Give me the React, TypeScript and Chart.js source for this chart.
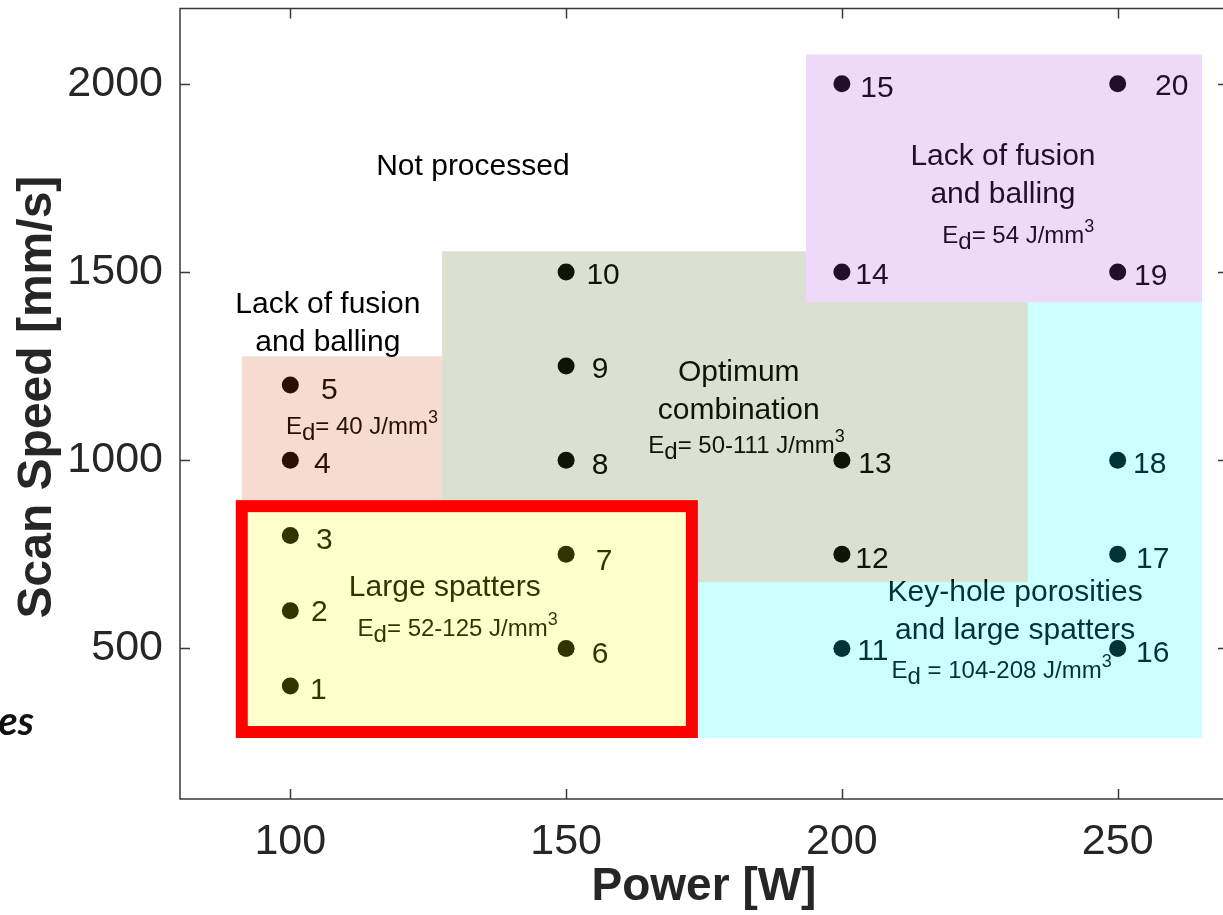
import React, { useEffect, useRef } from 'react';
import { Chart, registerables } from 'chart.js';

Chart.register(...registerables);

// ---- data ----
const POWER = [100, 100, 100, 100, 100, 150, 150, 150, 150, 150, 200, 200, 200, 200, 200, 250, 250, 250, 250, 250];
const SPEED = [400, 600, 800, 1000, 1200, 500, 750, 1000, 1250, 1500, 500, 750, 1000, 1500, 2000, 500, 750, 1000, 1500, 2000];
const POINT_IDS = ['1', '2', '3', '4', '5', '6', '7', '8', '9', '10', '11', '12', '13', '14', '15', '16', '17', '18', '19', '20'];
const X_TICKS = [100, 150, 200, 250];
const Y_TICKS = [500, 1000, 1500, 2000];
const X_RANGE = [80, 270];
const Y_RANGE = [100, 2200];

// process-window regions in data units: [xMin, xMax, yMin, yMax]
const REGION_NAMES = ['keyhole', 'optimum', 'lackLow', 'lackHigh', 'spatters'];
const REGION_BOUNDS = [
  [172.8, 265.3, 262, 1430],
  [127.5, 233.7, 676, 1555],
  [91.2, 127.5, 878, 1276],
  [193.5, 265.3, 1419.5, 2078],
  [91.2, 172.8, 278, 878],
];

// region captions (data-anchored, centred)
const CAPTION_TEXT = ['Not processed', 'Lack of fusion', 'and balling', 'Optimum', 'combination', 'Lack of fusion', 'and balling', 'Large spatters', 'Key-hole porosities', 'and large spatters'];
const CAPTION_X = [133.1, 106.8, 106.8, 181.3, 181.3, 229.2, 229.2, 128.0, 231.4, 231.4];
const CAPTION_Y = [1756.6, 1390.3, 1289.4, 1209.7, 1108.9, 1783.2, 1682.3, 638.9, 625.7, 524.8];

// energy density notes: text after "E_d", anchored left
const ED_TEXT = ['= 40 J/mm', '= 52-125 J/mm', '= 50-111 J/mm', '= 54 J/mm', ' = 104-208 J/mm'];
const ED_X = [99.2, 112.2, 164.9, 218.2, 209.0];
const ED_Y = [1069, 532.8, 1018.6, 1576.1, 421.3];

// ---- layout / style (not data) ----
const LABEL_DX = [28, 29, 34, 32, 39, 34, 38, 34, 34, 37, 31, 30, 33, 30, 35, 35, 35, 32, 33, 54];
const LABEL_DY = [2, 0, 3, 2, 3, 4, 5, 3, 1, 1, 1, 3, 2, 1, 3, 3, 3, 2, 2, 1];
const REGION_COLORS = ['rgb(0,255,255)', 'rgb(75,100,22)', 'rgb(210,75,25)', 'rgb(175,65,235)', 'rgb(255,255,0)'];
const FONT = '"Liberation Sans", Arial, Helvetica, sans-serif';
const AXIS_COLOR = '#3a3a3a';
const TEXT_COLOR = '#262626';

const W = 1240;
const H = 915;

const annotate = {
  id: 'annotate',
  afterDatasetsDraw(chart: any) {
    const { ctx, scales } = chart;
    const x = scales.x;
    const y = scales.y;
    ctx.save();
    ctx.fillStyle = '#000';
    ctx.textBaseline = 'alphabetic';
    ctx.font = `30px ${FONT}`;
    ctx.textAlign = 'center';
    CAPTION_TEXT.forEach((t, i) => {
      ctx.fillText(t, x.getPixelForValue(CAPTION_X[i]), y.getPixelForValue(CAPTION_Y[i]));
    });
    POINT_IDS.forEach((t, i) => {
      const px = x.getPixelForValue(POWER[i]) + LABEL_DX[i];
      const py = y.getPixelForValue(SPEED[i]) + LABEL_DY[i] + 10.7;
      ctx.fillText(t, px, py);
    });
    ctx.textAlign = 'left';
    ED_TEXT.forEach((t, i) => {
      let px = x.getPixelForValue(ED_X[i]);
      const py = y.getPixelForValue(ED_Y[i]);
      ctx.font = `24px ${FONT}`;
      ctx.fillText('E', px, py);
      px += ctx.measureText('E').width;
      ctx.fillText('d', px, py + 6);
      px += ctx.measureText('d').width;
      ctx.fillText(t, px, py);
      px += ctx.measureText(t).width;
      ctx.font = `18px ${FONT}`;
      ctx.fillText('3', px, py - 11);
    });
    ctx.restore();

    // translucent region overlays (drawn opaque off-screen, composited once)
    const off = document.createElement('canvas');
    off.width = chart.canvas.width;
    off.height = chart.canvas.height;
    const o = off.getContext('2d') as CanvasRenderingContext2D;
    const dpr = chart.currentDevicePixelRatio || 1;
    o.scale(dpr, dpr);
    REGION_NAMES.forEach((_, i) => {
      const [x0, x1, y0, y1] = REGION_BOUNDS[i];
      const l = x.getPixelForValue(x0);
      const r = x.getPixelForValue(x1);
      const t = y.getPixelForValue(y1);
      const b = y.getPixelForValue(y0);
      o.fillStyle = REGION_COLORS[i];
      o.fillRect(l, t, r - l, b - t);
    });
    ctx.save();
    ctx.setTransform(1, 0, 0, 1, 0, 0);
    ctx.globalAlpha = 0.2;
    ctx.drawImage(off, 0, 0);
    ctx.restore();

    // highlighted box around the large-spatter region
    const [bx0, bx1, by0, by1] = REGION_BOUNDS[4];
    const l = x.getPixelForValue(bx0);
    const r = x.getPixelForValue(bx1);
    const t = y.getPixelForValue(by1);
    const b = y.getPixelForValue(by0);
    ctx.save();
    ctx.strokeStyle = '#ff0000';
    ctx.lineWidth = 12;
    ctx.lineJoin = 'miter';
    ctx.strokeRect(l, t, r - l, b - t);
    ctx.restore();
  },
  afterDraw(chart: any) {
    const { ctx, chartArea, scales } = chart;
    const x = scales.x;
    const y = scales.y;
    const { left, right, top, bottom } = chartArea;
    ctx.save();
    ctx.strokeStyle = AXIS_COLOR;
    ctx.lineWidth = 1.5;
    ctx.strokeRect(left, top, right - left, bottom - top);
    ctx.beginPath();
    const tl = 10;
    X_TICKS.forEach((v) => {
      const px = Math.round(x.getPixelForValue(v)) + 0.5;
      ctx.moveTo(px, bottom);
      ctx.lineTo(px, bottom - tl);
      ctx.moveTo(px, top);
      ctx.lineTo(px, top + tl);
    });
    Y_TICKS.forEach((v) => {
      const py = Math.round(y.getPixelForValue(v)) + 0.5;
      ctx.moveTo(left, py);
      ctx.lineTo(left + tl, py);
      ctx.moveTo(right, py);
      ctx.lineTo(right - tl, py);
    });
    ctx.stroke();
    // cropped fragment of neighbouring text at the left margin
    ctx.fillStyle = '#111';
    ctx.font = 'italic bold 40px Lato, "Open Sans", sans-serif';
    ctx.textAlign = 'right';
    ctx.textBaseline = 'alphabetic';
    ctx.fillText('es', 34, 735);
    ctx.restore();
  },
};

export default function App() {
  const ref = useRef<HTMLCanvasElement | null>(null);
  useEffect(() => {
    if (!ref.current) return;
    const chart = new Chart(ref.current, {
      type: 'scatter',
      data: {
        datasets: [
          {
            data: POWER.map((p, i) => ({ x: p, y: SPEED[i] })),
            backgroundColor: '#000',
            borderWidth: 0,
            pointRadius: 8.5,
            pointHoverRadius: 8.5,
          },
        ],
      },
      options: {
        animation: false,
        responsive: false,
        devicePixelRatio: 1,
        events: [],
        layout: { padding: { left: 0, top: 8, right: 12, bottom: 0 } },
        plugins: { legend: { display: false }, tooltip: { enabled: false } },
        scales: {
          x: {
            type: 'linear',
            min: X_RANGE[0],
            max: X_RANGE[1],
            grid: { display: false, drawTicks: false },
            border: { display: false },
            afterBuildTicks: (s: any) => {
              s.ticks = X_TICKS.map((v) => ({ value: v }));
            },
            afterFit: (s: any) => {
              s.height = 116;
              s.paddingLeft = 0;
              s.paddingRight = 0;
              s.paddingTop = 0;
              s.paddingBottom = 0;
            },
            ticks: {
              autoSkip: false,
              maxRotation: 0,
              padding: 17,
              color: TEXT_COLOR,
              font: { family: FONT, size: 43 },
              callback: (v: any) => String(v),
            },
            title: {
              display: true,
              text: 'Power [W]',
              color: TEXT_COLOR,
              font: { family: FONT, size: 46, weight: 'bold' },
              padding: { top: 0, bottom: 0 },
            },
          },
          y: {
            type: 'linear',
            min: Y_RANGE[0],
            max: Y_RANGE[1],
            grid: { display: false, drawTicks: false },
            border: { display: false },
            afterBuildTicks: (s: any) => {
              s.ticks = Y_TICKS.map((v) => ({ value: v }));
            },
            afterFit: (s: any) => {
              s.width = 180;
              s.paddingLeft = 0;
              s.paddingRight = 0;
              s.paddingTop = 0;
              s.paddingBottom = 0;
            },
            ticks: {
              autoSkip: false,
              padding: 17,
              color: TEXT_COLOR,
              font: { family: FONT, size: 43 },
              callback: (v: any) => String(v),
            },
            title: {
              display: true,
              text: ' Scan Speed [mm/s]',
              color: TEXT_COLOR,
              font: { family: FONT, size: 48, weight: 'bold' },
              padding: { top: 9, bottom: 0 },
            },
          },
        },
      },
      plugins: [annotate],
    });
    return () => chart.destroy();
  }, []);

  return (
    <div style={{ position: 'fixed', left: 0, top: 0, width: 1223, height: 915, overflow: 'hidden', background: '#fff' }}>
      <canvas ref={ref} width={W} height={H} style={{ display: 'block', width: W, height: H }} />
    </div>
  );
}
